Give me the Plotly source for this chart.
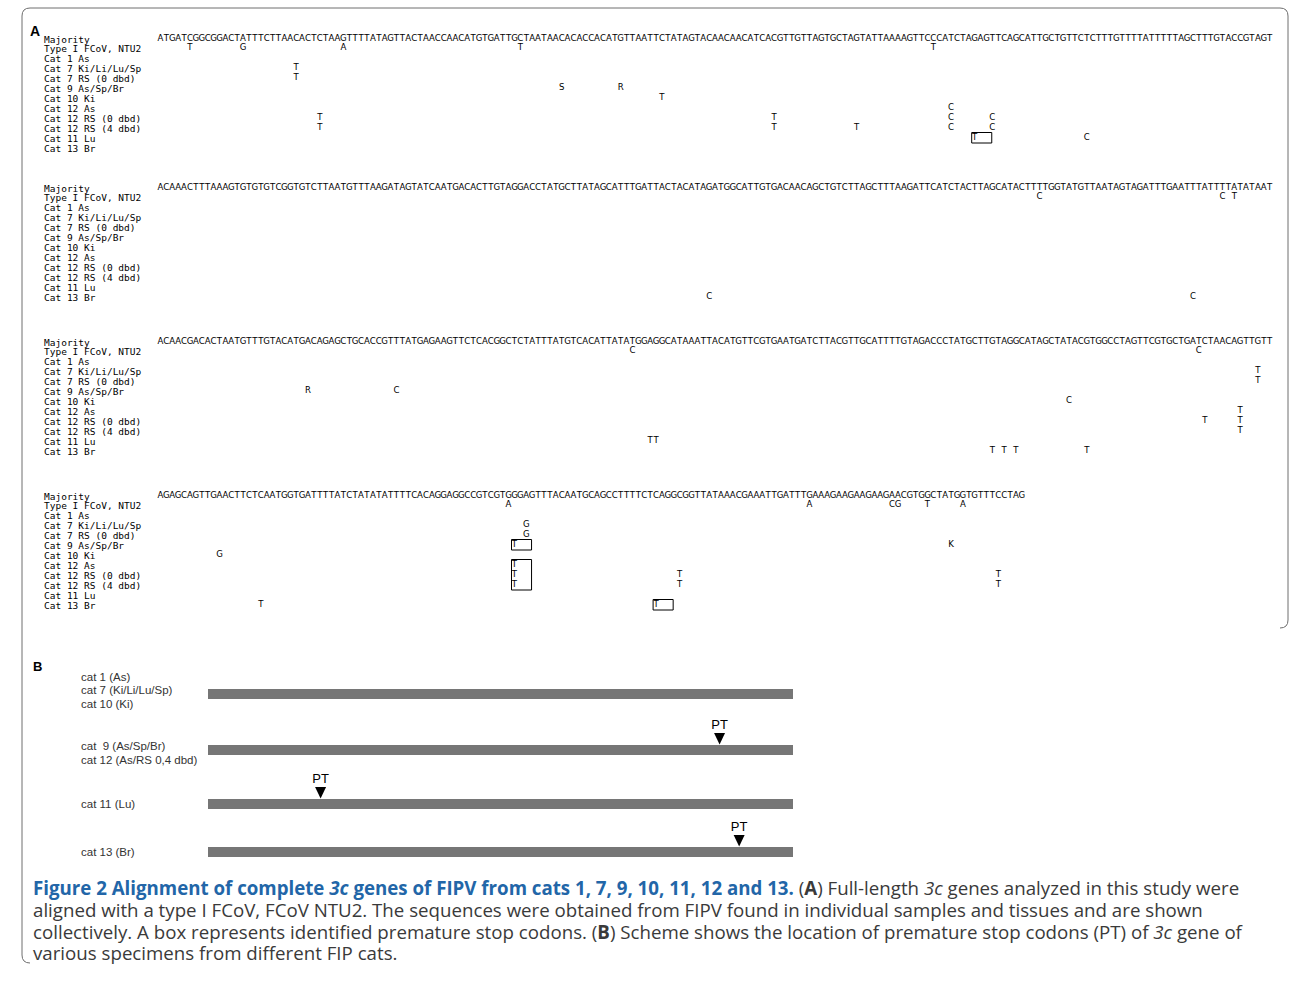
import plotly.graph_objects as go

# ---------------- data ----------------
MAJORITY = [
    "ATGATCGGCGGACTATTTCTTAACACTCTAAGTTTTATAGTTACTAACCAACATGTGATTGCTAATAACACACCACATGTTAATTCTATAGTACAACAACATCACGTTGTTAGTGCTAGTATTAAAAGTTCCCATCTAGAGTTCAGCATTGCTGTTCTCTTTGTTTTATTTTTAGCTTTGTACCGTAGT",
    "ACAAACTTTAAAGTGTGTGTCGGTGTCTTAATGTTTAAGATAGTATCAATGACACTTGTAGGACCTATGCTTATAGCATTTGATTACTACATAGATGGCATTGTGACAACAGCTGTCTTAGCTTTAAGATTCATCTACTTAGCATACTTTTGGTATGTTAATAGTAGATTTGAATTTATTTTATATAAT",
    "ACAACGACACTAATGTTTGTACATGACAGAGCTGCACCGTTTATGAGAAGTTCTCACGGCTCTATTTATGTCACATTATATGGAGGCATAAATTACATGTTCGTGAATGATCTTACGTTGCATTTTGTAGACCCTATGCTTGTAGGCATAGCTATACGTGGCCTAGTTCGTGCTGATCTAACAGTTGTT",
    "AGAGCAGTTGAACTTCTCAATGGTGATTTTATCTATATATTTTCACAGGAGGCCGTCGTGGGAGTTTACAATGCAGCCTTTTCTCAGGCGGTTATAAACGAAATTGATTTGAAAGAAGAAGAAGAACGTGGCTATGGTGTTTCCTAG",
]

ROW_LABELS = ["Majority", "Type I FCoV, NTU2", "Cat 1 As", "Cat 7 Ki/Li/Lu/Sp",
              "Cat 7 RS (0 dbd)", "Cat 9 As/Sp/Br", "Cat 10 Ki", "Cat 12 As",
              "Cat 12 RS (0 dbd)", "Cat 12 RS (4 dbd)", "Cat 11 Lu", "Cat 13 Br"]

# (row index, position in block, base)
MUT_BLOCK1 = [(1, 5, "T"), (1, 14, "G"), (1, 31, "A"), (1, 61, "T"), (1, 131, "T"),
              (3, 23, "T"), (4, 23, "T"), (5, 68, "S"), (5, 78, "R"), (6, 85, "T"),
              (7, 134, "C"),
              (8, 27, "T"), (8, 104, "T"), (8, 134, "C"), (8, 141, "C"),
              (9, 27, "T"), (9, 104, "T"), (9, 118, "T"), (9, 134, "C"), (9, 141, "C"),
              (10, 138, "T"), (10, 157, "C")]
MUT_BLOCK2 = [(1, 149, "C"), (1, 180, "C"), (1, 182, "T"),
              (11, 93, "C"), (11, 175, "C")]
MUT_BLOCK3 = [(1, 80, "C"), (1, 176, "C"), (3, 186, "T"), (4, 186, "T"),
              (5, 25, "R"), (5, 40, "C"), (6, 154, "C"), (7, 183, "T"),
              (8, 177, "T"), (8, 183, "T"), (9, 183, "T"),
              (10, 83, "T"), (10, 84, "T"),
              (11, 141, "T"), (11, 143, "T"), (11, 145, "T"), (11, 157, "T")]
MUT_BLOCK4 = [(1, 59, "A"), (1, 110, "A"), (1, 124, "C"), (1, 125, "G"), (1, 130, "T"), (1, 136, "A"),
              (3, 62, "G"), (4, 62, "G"), (5, 60, "T"), (5, 134, "K"), (6, 10, "G"),
              (7, 60, "T"), (8, 60, "T"), (8, 88, "T"), (8, 142, "T"),
              (9, 60, "T"), (9, 88, "T"), (9, 142, "T"),
              (11, 17, "T"), (11, 84, "T")]
MUTATIONS = [MUT_BLOCK1, MUT_BLOCK2, MUT_BLOCK3, MUT_BLOCK4]

# premature stop codons: (block, first row, last row, position)
STOP_BOXES = [(0, 10, 10, 138), (3, 5, 5, 60), (3, 7, 9, 60), (3, 11, 11, 84)]

GENE_LENGTH = 717
B_GROUP_LABELS = [["cat 1 (As)", "cat 7 (Ki/Li/Lu/Sp)", "cat 10 (Ki)"],
                  ["cat  9 (As/Sp/Br)", "cat 12 (As/RS 0,4 dbd)"],
                  ["cat 11 (Lu)"],
                  ["cat 13 (Br)"]]
B_GROUP_STOP_BOX = [None, 1, 0, 3]   # index into STOP_BOXES

CAPTION_LINES = [
    "<span style='color:#2266a8'><b>Figure 2 Alignment of complete <i>3c</i> genes of FIPV from cats 1, 7, 9, 10, 11, 12 and 13.</b></span>"
    " (<b>A</b>) Full-length <i>3c</i> genes analyzed in this study were",
    "aligned with a type I FCoV, FCoV NTU2. The sequences were obtained from FIPV found in individual samples and tissues and are shown",
    "collectively. A box represents identified premature stop codons. (<b>B</b>) Scheme shows the location of premature stop codons (PT) of <i>3c</i> gene of",
    "various specimens from different FIP cats.",
]

# ---------------- layout constants ----------------
W, H = 1292, 981
SEQ_X0, CHAR_W = 157.5, 5.9
BLOCK_TOP = [39, 188, 342, 496]
ROW_OFFSET = [0, 9, 19, 29, 39, 49, 59, 69, 79, 89, 99, 109]
LABEL_X = 43
BAR_PX0, BAR_PX1 = 208, 793
BAR_Y = [694, 750, 804, 852]
BAR_LABEL_Y = [[677, 690, 704], [746, 760], [804], [852]]
CAPTION_Y = [887, 909, 931, 952]
BLOCK_LEN = len(MAJORITY[0])

SEQ_FONT = dict(family="DejaVu Sans Condensed, DejaVu Sans", size=9.5, color="black")
LAB_FONT = dict(family="DejaVu Sans Mono", size=9.5, color="black")
B_FONT = dict(family="Liberation Sans", size=11.5, color="#333333")
CAP_FONT = dict(family="Open Sans", size=18.7, color="#3a3a3a")


def row_y(b, r):
    return BLOCK_TOP[b] + ROW_OFFSET[r]


fig = go.Figure()

# majority sequences
for b, seq in enumerate(MAJORITY):
    fig.add_trace(go.Scatter(
        x=list(range(len(seq))), y=[row_y(b, 0)] * len(seq), text=list(seq),
        mode="text", textfont=SEQ_FONT, textposition="middle center",
        hoverinfo="skip", xaxis="x", yaxis="y"))

# substitutions
mx, my, mt = [], [], []
for b, muts in enumerate(MUTATIONS):
    for r, p, base in muts:
        mx.append(p)
        my.append(row_y(b, r))
        mt.append(base)
fig.add_trace(go.Scatter(x=mx, y=my, text=mt, mode="text", textfont=SEQ_FONT,
                         textposition="middle center", hoverinfo="skip",
                         xaxis="x", yaxis="y"))

shapes = []
for b, r0, r1, p in STOP_BOXES:
    shapes.append(dict(type="rect", xref="x", yref="y",
                       x0=p - 0.5, x1=p + 2.9,
                       y0=row_y(b, r0) - 5.5, y1=row_y(b, r1) + 5,
                       line=dict(color="black", width=1), fillcolor="rgba(0,0,0,0)"))

annotations = []
for b in range(len(MAJORITY)):
    for r, lab in enumerate(ROW_LABELS):
        annotations.append(dict(text=lab, xref="paper", yref="y", x=LABEL_X / W, y=row_y(b, r),
                                xanchor="left", yanchor="middle", showarrow=False,
                                font=LAB_FONT, borderpad=0))

annotations.append(dict(text="<b>A</b>", xref="paper", yref="y", x=28 / W, y=31,
                        xanchor="left", yanchor="middle", showarrow=False,
                        font=dict(family="Liberation Sans", size=14, color="black")))
annotations.append(dict(text="<b>B</b>", xref="paper", yref="y", x=31 / W, y=666,
                        xanchor="left", yanchor="middle", showarrow=False,
                        font=dict(family="Liberation Sans", size=13, color="black")))

# ---------------- panel B ----------------
fig.add_trace(go.Bar(orientation="h", x=[GENE_LENGTH] * len(BAR_Y), base=0, y=BAR_Y,
                     width=10, marker=dict(color="#767676", line=dict(width=0)),
                     hoverinfo="skip", xaxis="x2", yaxis="y"))

nt_per_px = GENE_LENGTH / (BAR_PX1 - BAR_PX0)
pt_x, pt_y = [], []
for g, sb in enumerate(B_GROUP_STOP_BOX):
    for k, lab in enumerate(B_GROUP_LABELS[g]):
        annotations.append(dict(text=lab, xref="paper", yref="y", x=80 / W, y=BAR_LABEL_Y[g][k],
                                xanchor="left", yanchor="middle", showarrow=False,
                                font=B_FONT, borderpad=0))
    if sb is None:
        continue
    blk, _, _, pos = STOP_BOXES[sb]
    nt = blk * BLOCK_LEN + pos
    dx = 5.5 * nt_per_px
    top, tip = BAR_Y[g] - 17, BAR_Y[g] - 5.5
    fig.add_trace(go.Scatter(x=[nt - dx, nt + dx, nt, nt - dx], y=[top, top, tip, top],
                             mode="lines", fill="toself", fillcolor="black",
                             line=dict(width=0, color="black"), hoverinfo="skip",
                             xaxis="x2", yaxis="y"))
    pt_x.append(nt)
    pt_y.append(BAR_Y[g] - 24)
fig.add_trace(go.Scatter(x=pt_x, y=pt_y, text=["PT"] * len(pt_x), mode="text",
                         textfont=dict(family="Liberation Sans", size=13, color="black"),
                         textposition="middle center", hoverinfo="skip",
                         xaxis="x2", yaxis="y"))

# ---------------- caption ----------------
for line, yy in zip(CAPTION_LINES, CAPTION_Y):
    annotations.append(dict(text=line, xref="paper", yref="y", x=32 / W, y=yy,
                            xanchor="left", yanchor="middle", align="left", showarrow=False,
                            font=CAP_FONT, borderpad=0))

# ---------------- frame ----------------
L, T, R, RB, BOT, RAD = 22, 8, 1288, 628, 963, 8
shapes.append(dict(type="path", xref="x3", yref="y",
                   path=(f"M {L},{T + RAD} Q {L},{T} {L + RAD},{T} L {R - RAD},{T} "
                         f"Q {R},{T} {R},{T + RAD} L {R},{RB - RAD} Q {R},{RB} {R - RAD},{RB}"),
                   line=dict(color="#6e6e6e", width=1)))
shapes.append(dict(type="path", xref="x3", yref="y",
                   path=f"M {L},{T + RAD} L {L},{BOT - RAD} Q {L},{BOT} {L + RAD},{BOT}",
                   line=dict(color="#6e6e6e", width=1)))

x_lo = (0 - SEQ_X0) / CHAR_W - 0.5
x_hi = (W - SEQ_X0) / CHAR_W - 0.5
fig.update_layout(
    width=W, height=H, margin=dict(l=0, r=0, t=0, b=0), autosize=False,
    paper_bgcolor="white", plot_bgcolor="white", showlegend=False,
    xaxis=dict(range=[x_lo, x_hi], visible=False, domain=[0, 1], fixedrange=True),
    xaxis2=dict(range=[(0 - BAR_PX0) * nt_per_px, (W - BAR_PX0) * nt_per_px],
                overlaying="x", anchor="y", visible=False, fixedrange=True),
    xaxis3=dict(range=[0, W], overlaying="x", anchor="y", visible=False, fixedrange=True),
    yaxis=dict(range=[H, 0], visible=False, domain=[0, 1], fixedrange=True),
    shapes=shapes, annotations=annotations,
)

fig.write_html("out.html", config={"displayModeBar": False},
               post_script="document.body.style.margin='0px';document.body.style.overflow='hidden';")
